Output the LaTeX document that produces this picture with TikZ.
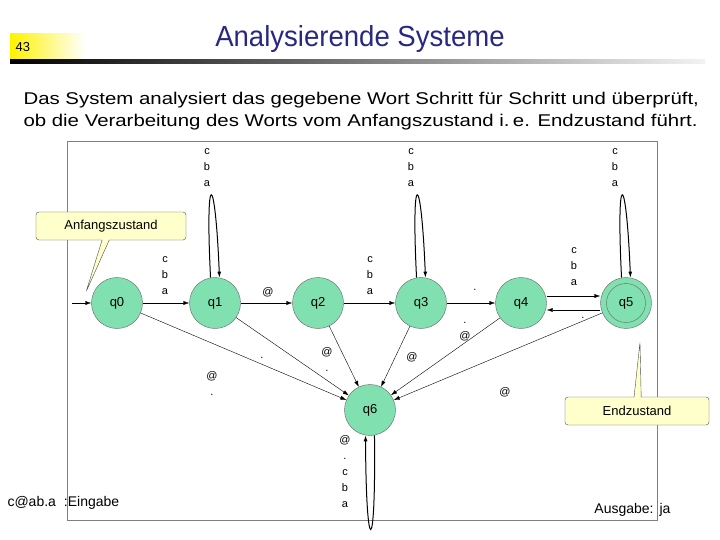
\documentclass[tikz,border=0pt]{standalone}
\usepackage{fontspec}
\setmainfont{Liberation Sans}
\usetikzlibrary{arrows.meta,shapes.callouts}
\definecolor{mint}{RGB}{128,224,176}
\definecolor{note}{RGB}{255,255,204}
\definecolor{titleblue}{RGB}{40,40,130}
\begin{document}
\begin{tikzpicture}[x=1pt,y=-1pt,
  st/.style={circle,draw=black!60,fill=mint,minimum size=51pt,inner sep=0pt,font=\fontsize{13}{14}\selectfont},
  tr/.style={-{Latex[length=6pt,width=4pt]},black},
  lp/.style={-{Latex[length=6pt,width=4pt]},black,line width=1pt},
  lb/.style={font=\fontsize{11}{16}\selectfont,align=center,inner sep=0pt},
  call/.style={rectangle callout,draw=black!70,fill=note,rounded corners=3pt,font=\fontsize{13}{14}\selectfont,minimum height=28pt,inner sep=0pt}]
\useasboundingbox (0,0) rectangle (720,540);
% header
\shade[left color=yellow!90!orange,right color=white] (10,34) rectangle (85,60);
\node[font=\fontsize{13}{13}\selectfont,anchor=west] (num) at (12,47) {43};
\shade[left color=black,right color=black!5] (10,60) rectangle (705,64);
\node[font=\fontsize{29}{30}\selectfont,text=titleblue] (title) at (360,39) {\scalebox{0.95}[1]{Analysierende Systeme}};
\node[font=\fontsize{17}{22}\selectfont,align=left,anchor=west] (body) at (20,111)
 {\scalebox{1.2}[1]{Das System analysiert das gegebene Wort Schritt für Schritt und überprüft,}\\\scalebox{1.2}[1]{ob die Verarbeitung des Worts vom Anfangszustand i.\,e. Endzustand führt.}};
% frame
\draw[black!50] (67,141) rectangle (657,520);
% states
\node[st] (q0) at (117,303) {q0};
\node[st] (q1) at (215,303) {q1};
\node[st] (q2) at (318,303) {q2};
\node[st] (q3) at (421,303) {q3};
\node[st] (q4) at (521,303) {q4};
\node[st] (q5) at (626,303) {q5};
\node[circle,draw=black!60,minimum size=39pt] (q5in) at (q5) {};
\node[st] (q6) at (370,410) {q6};
% start
\coordinate (s) at (72,303);
\draw[tr] (s) -- (q0);
% edges
\draw[tr] (q0) -- (q1);
\draw[tr] (q1) -- (q2);
\draw[tr] (q2) -- (q3);
\draw[tr] (q3) -- (q4);
\draw[tr] (q4.east |- 0,296) -- (q5.west |- 0,296);
\draw[tr] (q5.west |- 0,310) -- (q4.east |- 0,310);
\foreach \q in {q0,q1,q2,q3,q4,q5} \draw[tr] (\q) -- (q6);
% loops
\draw[lp] (q1.100) .. controls (205,168) and (215,168) .. (q1.80);
\draw[lp] (q3.100) .. controls (411,168) and (421,168) .. (q3.80);
\draw[lp] (q5.100) .. controls (616,168) and (626,168) .. (q5.80);
\draw[lp] (q6.-80) .. controls (376,560) and (366,560) .. (q6.-100);
% labels
\node[lb] (l1) at (207,168) {c\\b\\a};
\node[lb] (l3) at (411,168) {c\\b\\a};
\node[lb] (l5) at (615,168) {c\\b\\a};
\node[lb] (l01) at (165,276) {c\\b\\a};
\node[lb] (l12) at (268,292) {@};
\node[lb] (l23) at (370,276) {c\\b\\a};
\node[lb] (l34) at (475,290) {.};
\node[lb] (l45) at (574,267) {c\\b\\a};
\node[lb] (l54) at (583,318) {.};
\node[lb] (l06) at (212,384) {@\\.};
\node[lb] (l16) at (262,358) {.};
\node[lb] (l26) at (327,360) {@\\.};
\node[lb] (l36) at (412,357) {@};
\node[lb] (l46) at (465,332) {.\\@};
\node[lb] (l56) at (505,392) {@};
\node[lb] (l66) at (345,472) {@\\.\\c\\b\\a};
% callouts
\node[call,minimum width=150pt,callout absolute pointer={(86,292)}] (anf) at (111,226) {Anfangszustand};
\node[call,minimum width=144pt,callout absolute pointer={(640,342)}] (end) at (637,411) {Endzustand};
% io
\node[font=\fontsize{14}{14}\selectfont,anchor=west] (in) at (4,503) {c@ab.a\hspace{8pt}:Eingabe};
\node[font=\fontsize{14}{14}\selectfont,anchor=east] (out) at (674,510) {Ausgabe:\hspace{6pt}ja};
\end{tikzpicture}
\end{document}
